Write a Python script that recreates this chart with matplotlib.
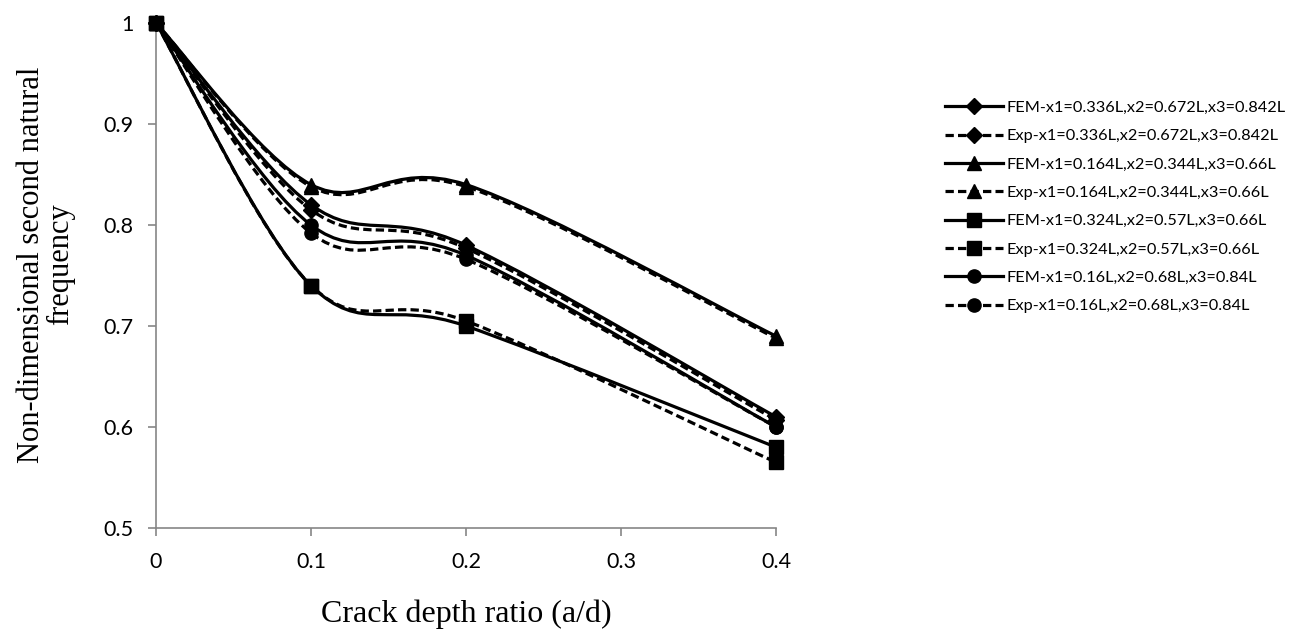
import numpy as np
import matplotlib
matplotlib.use("Agg")
import matplotlib.pyplot as plt
from matplotlib.path import Path
from matplotlib.patches import PathPatch
from matplotlib.lines import Line2D

crack_ratio = [0.0, 0.1, 0.2, 0.4]

series_labels = [
    "FEM-x1=0.336L,x2=0.672L,x3=0.842L",
    "Exp-x1=0.336L,x2=0.672L,x3=0.842L",
    "FEM-x1=0.164L,x2=0.344L,x3=0.66L",
    "Exp-x1=0.164L,x2=0.344L,x3=0.66L",
    "FEM-x1=0.324L,x2=0.57L,x3=0.66L",
    "Exp-x1=0.324L,x2=0.57L,x3=0.66L",
    "FEM-x1=0.16L,x2=0.68L,x3=0.84L",
    "Exp-x1=0.16L,x2=0.68L,x3=0.84L",
]

fem_336 = [1.0, 0.820, 0.780, 0.610]
exp_336 = [1.0, 0.815, 0.777, 0.607]
fem_164 = [1.0, 0.840, 0.840, 0.690]
exp_164 = [1.0, 0.838, 0.838, 0.688]
fem_324 = [1.0, 0.740, 0.700, 0.580]
exp_324 = [1.0, 0.740, 0.705, 0.565]
fem_16 = [1.0, 0.800, 0.770, 0.600]
exp_16 = [1.0, 0.792, 0.766, 0.600]

series_values = [fem_336, exp_336, fem_164, exp_164, fem_324, exp_324, fem_16, exp_16]
markers = ["D", "D", "^", "^", "s", "s", "o", "o"]
marker_sizes = [8, 8, 10, 10, 9.5, 9.5, 9.5, 9.5]
dashed = [False, True, False, True, False, True, False, True]

plt.rcParams["lines.scale_dashes"] = False

W, H = 1314, 635
fig = plt.figure(figsize=(W / 100, H / 100), dpi=100)
ax = fig.add_axes([156 / W, 1 - 528 / H, (776 - 156) / W, (528 - 23) / H])


def excel_smooth_path(xs, ys):
    pts = np.column_stack([xs, ys])
    n = len(pts)
    verts = [pts[0]]
    codes = [Path.MOVETO]
    for i in range(n - 1):
        p0 = pts[i - 1] if i > 0 else pts[i]
        p1 = pts[i]
        p2 = pts[i + 1]
        p3 = pts[i + 2] if i + 2 < n else pts[i + 1]
        c1 = p1 + (p2 - p0) / 6.0
        c2 = p2 - (p3 - p1) / 6.0
        verts += [c1, c2, p2]
        codes += [Path.CURVE4] * 3
    return Path(verts, codes)


lw = 2.3
dash = (6, 3)
for vals, mk, ms, ds in zip(series_values, markers, marker_sizes, dashed):
    path = excel_smooth_path(crack_ratio, vals)
    patch = PathPatch(path, facecolor="none", edgecolor="black", lw=lw,
                      linestyle=(0, dash) if ds else "-", capstyle="butt",
                      zorder=2, clip_on=False)
    ax.add_patch(patch)
    ax.plot(crack_ratio, vals, linestyle="none", marker=mk, markersize=ms,
            color="black", zorder=3, clip_on=False)

ax.set_xlim(0, 0.4)
ax.set_ylim(0.5, 1.0)
ax.set_xticks([0, 0.1, 0.2, 0.3, 0.4])
ax.set_xticklabels(["0", "0.1", "0.2", "0.3", "0.4"])
ax.set_yticks([0.5, 0.6, 0.7, 0.8, 0.9, 1.0])
ax.set_yticklabels(["0.5", "0.6", "0.7", "0.8", "0.9", "1"])

for s in ["top", "right"]:
    ax.spines[s].set_visible(False)
for s in ["left", "bottom"]:
    ax.spines[s].set_color("#868686")
    ax.spines[s].set_linewidth(1.2)
ax.tick_params(axis="both", direction="out", length=6, width=1.2, color="#868686",
               labelsize=15.5)
ax.tick_params(axis="y", pad=10)
ax.tick_params(axis="x", pad=11)
for lab in ax.get_xticklabels() + ax.get_yticklabels():
    lab.set_family("Lato")

ax.set_xlabel("Crack depth ratio (a/d)", family="Liberation Serif", fontsize=23, labelpad=20)
ax.set_ylabel("Non-dimensional second natural\nfrequency", family="Liberation Serif",
              fontsize=22, linespacing=1.0)
ax.yaxis.set_label_coords(-0.131, 0.522)

handles = []
for lab, mk, ms, ds in zip(series_labels, markers, marker_sizes, dashed):
    h = Line2D([0], [0], color="black", lw=lw, linestyle=(0, dash) if ds else "-",
               marker=mk, markersize=ms)
    handles.append(h)
leg = fig.legend(handles, series_labels, loc="upper left",
                 bbox_to_anchor=(938 / W, 1 - 94 / H), frameon=False,
                 prop={"family": "Lato", "size": 11.7}, handlelength=3.6,
                 handletextpad=0.2, labelspacing=0.86, borderaxespad=0)

fig.savefig("out.png", dpi=100)
